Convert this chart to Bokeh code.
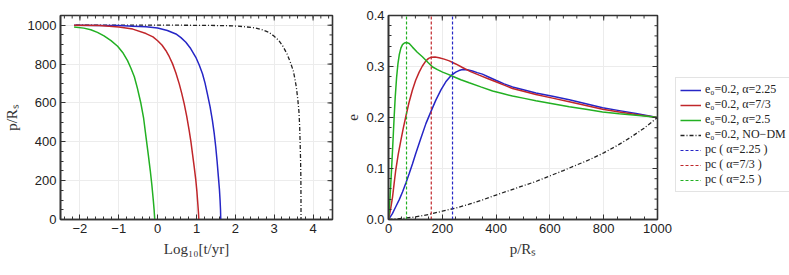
import math
from bokeh.plotting import figure
from bokeh.layouts import row
from bokeh.models import FixedTicker, Legend, LegendItem, Range1d
from bokeh.embed import file_html
from bokeh.resources import INLINE

# ---------------- data: left panel (Log10 t vs p/Rs) ----------------
logt_a225 = [-2.15, -1.5, -1.0, -0.64, -0.3, 0.0, 0.25, 0.47, 0.6, 0.726, 0.85, 0.983, 1.07, 1.154,
             1.22, 1.28, 1.35, 1.41, 1.455, 1.496, 1.53, 1.564, 1.59, 1.607, 1.618, 1.624]
p_a225 = [1000, 999, 998, 995, 992, 986, 973, 955, 936, 912, 880, 835, 795, 750,
          702, 647, 580, 509, 445, 372, 300, 218, 155, 98, 50, 0]

logt_a73 = [-2.15, -1.5, -1.0, -0.64, -0.3, -0.12, 0.0, 0.11, 0.21, 0.3, 0.385, 0.47, 0.556, 0.62,
            0.684, 0.75, 0.812, 0.857, 0.897, 0.94, 0.983, 1.01, 1.034, 1.05, 1.06]
p_a73 = [1000, 998, 991, 980, 957, 940, 920, 898, 870, 838, 801, 754, 698, 649,
         595, 530, 458, 400, 338, 272, 201, 145, 81, 38, 0]

logt_a25 = [-2.15, -1.9, -1.72, -1.55, -1.38, -1.2, -1.03, -0.9, -0.775, -0.69, -0.6, -0.52, -0.43,
            -0.36, -0.3, -0.24, -0.19, -0.15, -0.11, -0.09, -0.075]
p_a25 = [991, 985, 977, 963, 945, 921, 892, 860, 818, 780, 735, 675, 597,
         520, 425, 333, 252, 180, 95, 48, 0]

logt_nodm = [-2.1, 0.0, 0.63, 1.3, 1.92, 2.2, 2.52, 2.7, 2.86, 3.0, 3.12, 3.23, 3.33, 3.41, 3.49,
             3.53, 3.57, 3.605, 3.635, 3.655, 3.668, 3.678, 3.686, 3.689, 3.69]
p_nodm = [1000, 1000, 1000, 999, 997, 993, 986, 976, 964, 943, 921, 890, 852, 812, 766,
          727, 680, 622, 559, 480, 387, 310, 215, 110, 0]

# ---------------- data: right panel (p/Rs vs e) ----------------
pr_a225 = [0, 14, 27, 40, 52, 65, 77, 89, 101, 120, 139, 158, 176, 195, 213, 232, 250, 262, 275, 293,
           312, 330, 349, 374, 399, 430, 461, 505, 548, 610, 672, 734, 796, 858, 920, 960, 1000]
e_a225 = [0, 0.011, 0.025, 0.039, 0.054, 0.072, 0.09, 0.109, 0.129, 0.159, 0.188, 0.212, 0.234, 0.254,
          0.270, 0.282, 0.289, 0.292, 0.294, 0.2935, 0.291, 0.288, 0.285, 0.279, 0.273, 0.266, 0.26,
          0.254, 0.248, 0.2415, 0.235, 0.227, 0.219, 0.2135, 0.208, 0.204, 0.2]

pr_a73 = [0, 7, 15, 21, 27, 36, 46, 55, 64, 76, 89, 101, 114, 126, 139, 149, 159, 173, 188, 207, 226,
          250, 275, 305, 337, 368, 399, 430, 461, 505, 548, 610, 672, 734, 796, 858, 920, 960, 1000]
e_a73 = [0, 0.018, 0.044, 0.071, 0.097, 0.127, 0.155, 0.179, 0.201, 0.229, 0.254, 0.273, 0.289, 0.301,
         0.311, 0.316, 0.318, 0.3185, 0.317, 0.3145, 0.311, 0.305, 0.298, 0.290, 0.283, 0.2765, 0.270,
         0.2635, 0.257, 0.251, 0.245, 0.238, 0.231, 0.2235, 0.216, 0.211, 0.206, 0.203, 0.2]

pr_a25 = [0, 3, 6, 9, 12, 15, 18, 21, 25, 30, 35, 40, 46, 52, 59, 67, 77, 89, 107, 126, 145, 164, 182,
          201, 220, 238, 269, 300, 343, 387, 424, 461, 505, 548, 610, 672, 734, 796, 858, 920, 960, 1000]
e_a25 = [0, 0.02, 0.045, 0.075, 0.105, 0.136, 0.168, 0.201, 0.24, 0.278, 0.305, 0.323, 0.336, 0.343,
         0.346, 0.347, 0.345, 0.338, 0.328, 0.319, 0.309, 0.299, 0.294, 0.289, 0.285, 0.281, 0.274,
         0.268, 0.260, 0.252, 0.247, 0.242, 0.2375, 0.233, 0.227, 0.221, 0.216, 0.211, 0.2075, 0.2045,
         0.2025, 0.2]

pr_nodm = [0, 50, 100, 150, 200, 250, 300, 350, 400, 450, 500, 550, 600, 650, 700, 750, 800, 850, 900,
           950, 1000]
e_nodm = [0, 0.002, 0.005, 0.01, 0.0163, 0.0225, 0.030, 0.0385, 0.048, 0.057, 0.066, 0.075, 0.0855,
          0.096, 0.107, 0.118, 0.1306, 0.145, 0.161, 0.179, 0.2]

pc_values = [238, 159, 67]          # alpha = 2.25, 7/3, 2.5
pc_labels = ["pc ( α=2.25 )", "pc ( α=7/3 )", "pc ( α=2.5 )"]
curve_labels = ["e₀=0.2, α=2.25", "e₀=0.2, α=7/3", "e₀=0.2, α=2.5", "e₀=0.2, NO−DM"]

left_xticks = [-2, -1, 0, 1, 2, 3, 4]
left_yticks = [0, 200, 400, 600, 800, 1000]
right_xticks = [0, 200, 400, 600, 800, 1000]
right_yticks = [0.0, 0.1, 0.2, 0.3, 0.4]

# ---------------- styling ----------------
BLUE = "#2626c6"
RED = "#c0262a"
GREEN = "#22b022"
BLACK = "#222222"
SANS = "Liberation Sans"
SERIF = "Liberation Serif"
AX = "#333333"


def style_axis(ax):
    ax.axis_line_color = AX
    ax.axis_line_width = 1.6
    ax.major_tick_line_color = AX
    ax.minor_tick_line_color = AX
    ax.major_tick_in = 5
    ax.major_tick_out = 0
    ax.minor_tick_in = 3
    ax.minor_tick_out = 0
    ax.major_label_text_font = SANS
    ax.major_label_text_color = "#222222"
    ax.major_label_text_font_size = "13px"
    ax.major_label_standoff = 4
    ax.axis_label_text_font = SERIF
    ax.axis_label_text_font_style = "normal"
    ax.axis_label_text_font_size = "15px"
    ax.axis_label_text_color = "#333333"
    ax.axis_label_standoff = 5


def frame_axes(p, xr, yr, xt, xminor, yt, yminor, xfmt, yfmt):
    xax = p.xaxis[0]
    yax = p.yaxis[0]
    xax.ticker = FixedTicker(ticks=xt, minor_ticks=xminor)
    yax.ticker = FixedTicker(ticks=yt, minor_ticks=yminor)
    xax.major_label_overrides = {t: xfmt(t) for t in xt}
    yax.major_label_overrides = {t: yfmt(t) for t in yt}
    style_axis(xax)
    style_axis(yax)
    p.xgrid.ticker = FixedTicker(ticks=xt)
    p.ygrid.ticker = FixedTicker(ticks=yt)
    p.grid.grid_line_color = "#ececec"
    p.grid.grid_line_width = 1
    p.outline_line_color = AX
    p.outline_line_width = 1.6
    # inward ticks on the top and right frame edges (half of each dash is clipped away)
    xs_in = [v for v in xt if xr[0] <= v <= xr[1]]
    xm_in = [v for v in xminor if xr[0] <= v <= xr[1]]
    ys_in = [v for v in yt if yr[0] <= v <= yr[1]]
    ym_in = [v for v in yminor if yr[0] <= v <= yr[1]]
    p.scatter(xs_in, [yr[1]] * len(xs_in), marker="dash", size=10, angle=math.pi / 2,
              line_color=AX, line_width=1)
    p.scatter(xm_in, [yr[1]] * len(xm_in), marker="dash", size=6, angle=math.pi / 2,
              line_color=AX, line_width=1)
    p.scatter([xr[1]] * len(ys_in), ys_in, marker="dash", size=10,
              line_color=AX, line_width=1)
    p.scatter([xr[1]] * len(ym_in), ym_in, marker="dash", size=6,
              line_color=AX, line_width=1)
    return xax, yax


def minus(v):
    return f"{v:g}".replace("-", "−")

# ---------------- left figure ----------------
LXR = (-2.5, 4.5)
LYR = (0, 1050)
p1 = figure(frame_width=272, frame_height=204, min_border_left=50, min_border_right=10,
            min_border_top=15, min_border_bottom=48,
            x_range=Range1d(*LXR), y_range=Range1d(*LYR),
            output_backend="svg", toolbar_location=None)
p1.background_fill_color = "white"
p1.border_fill_color = "white"

p1.line(logt_nodm, p_nodm, line_color=BLACK, line_width=1.3, line_dash="4 2 1 2")
p1.line(logt_a225, p_a225, line_color=BLUE, line_width=1.5)
p1.line(logt_a73, p_a73, line_color=RED, line_width=1.5)
p1.line(logt_a25, p_a25, line_color=GREEN, line_width=1.5)

lx_minor = [round(-2.4 + 0.2 * i, 1) for i in range(35)]
ly_minor = [50 * i for i in range(22)]
ax1x, ax1y = frame_axes(p1, LXR, LYR, left_xticks, lx_minor, left_yticks, ly_minor,
                        minus, lambda v: f"{v:d}")
ax1x.axis_label = "Log₁₀[t/yr]"
ax1y.axis_label = "p/Rₛ"

# ---------------- right figure ----------------
RXR = (0, 1000)
RYR = (0.0, 0.4)
p2 = figure(frame_width=269, frame_height=204, min_border_left=46, min_border_right=126,
            min_border_top=15, min_border_bottom=48,
            x_range=Range1d(*RXR), y_range=Range1d(*RYR),
            output_backend="svg", toolbar_location=None)
p2.background_fill_color = "white"
p2.border_fill_color = "white"

r_b = p2.line(pr_a225, e_a225, line_color=BLUE, line_width=1.5)
r_r = p2.line(pr_a73, e_a73, line_color=RED, line_width=1.5)
r_g = p2.line(pr_a25, e_a25, line_color=GREEN, line_width=1.5)
r_k = p2.line(pr_nodm, e_nodm, line_color=BLACK, line_width=1.3, line_dash="4 2 1 2")

pc_r = []
for pc, col in zip(pc_values, [BLUE, RED, GREEN]):
    pc_r.append(p2.line([pc, pc], [RYR[0], RYR[1]], line_color=col, line_width=1.2, line_dash="3 2"))

rx_minor = [50 * i for i in range(21)]
ry_minor = [round(0.02 * i, 2) for i in range(21)]
ax2x, ax2y = frame_axes(p2, RXR, RYR, right_xticks, rx_minor, right_yticks, ry_minor,
                        lambda v: f"{v:d}", lambda v: f"{v:.1f}")
ax2x.axis_label = "p/Rₛ"
ax2y.axis_label = "e"

items = [LegendItem(label=curve_labels[0], renderers=[r_b]),
         LegendItem(label=curve_labels[1], renderers=[r_r]),
         LegendItem(label=curve_labels[2], renderers=[r_g]),
         LegendItem(label=curve_labels[3], renderers=[r_k])]
for lab, rr in zip(pc_labels, pc_r):
    items.append(LegendItem(label=lab, renderers=[rr]))

legend = Legend(items=items, location=(18, 27))
legend.border_line_color = "#c8c8c8"
legend.border_line_width = 1
legend.background_fill_color = "white"
legend.background_fill_alpha = 1
legend.padding = 4
legend.spacing = 0
legend.margin = 0
legend.glyph_width = 21
legend.glyph_height = 12
legend.label_height = 12
legend.label_standoff = 4
legend.label_text_font = SERIF
legend.label_text_font_size = "12px"
legend.label_text_color = "#222222"
p2.add_layout(legend, "right")

layout = row(p1, p2)

open("out.html", "w").write(file_html(layout, INLINE))
